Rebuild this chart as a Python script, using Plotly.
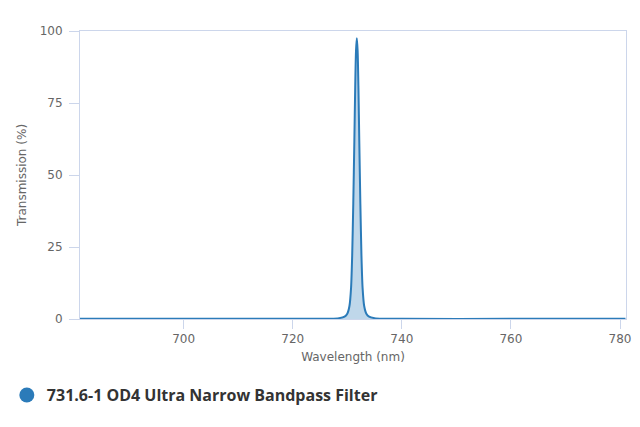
import plotly.graph_objects as go

series_name = "731.6-1 OD4 Ultra Narrow Bandpass Filter"
wavelength_nm = [681, 700, 720, 727, 728.5, 729.5, 730.0, 730.4, 730.7, 730.9, 731.1, 731.3, 731.45,
                 731.6, 731.75, 731.9, 732.05, 732.2, 732.4, 732.6, 732.8, 733.1, 733.5, 734.0,
                 735.0, 736.5, 740, 760, 781]
transmission_pct = [0.05, 0.05, 0.05, 0.1, 0.3, 0.8, 1.8, 4.5, 11, 22, 40, 62, 80,
                    93, 97.5, 93, 80, 62, 40, 22, 11, 4.5, 1.8, 0.8,
                    0.3, 0.1, 0.05, 0.05, 0.05]
x_ticks = [700, 720, 740, 760, 780]
y_ticks = [0, 25, 50, 75, 100]

line_color = "#2b7bb9"
axis_color = "#ccd6eb"
label_font = "DejaVu Sans, Verdana, sans-serif"

fig = go.Figure()
fig.add_trace(go.Scatter(
    x=wavelength_nm, y=transmission_pct, mode="lines",
    line=dict(color=line_color, width=2, shape="spline", smoothing=0.6),
    fill="tozeroy", fillcolor="rgba(43,123,185,0.3)",
    showlegend=False, hoverinfo="x+y",
))
fig.add_trace(go.Scatter(
    x=[None], y=[None], mode="markers", name=series_name,
    marker=dict(color=line_color, size=15, symbol="circle"),
))

fig.update_layout(
    width=624, height=411,
    margin=dict(l=72, r=6, t=23, b=100, autoexpand=False),
    plot_bgcolor="white", paper_bgcolor="white",
    font=dict(family=label_font, size=12, color="#666666"),
    xaxis=dict(
        range=[681, 781.1], tickvals=x_ticks, ticks="outside", ticklen=9,
        tickcolor=axis_color, showgrid=False, zeroline=False,
        showline=True, linecolor=axis_color, mirror=True, linewidth=1,
        title=dict(text="Wavelength (nm)", font=dict(family=label_font, size=12, color="#666666"), standoff=7),
        tickfont=dict(family=label_font, size=12, color="#666666"),
        ticklabeloverflow="allow",
        automargin=False,
    ),
    yaxis=dict(
        range=[0, 100], tickvals=y_ticks, ticks="outside", ticklen=10,
        tickcolor=axis_color, showgrid=False, zeroline=False,
        showline=True, linecolor=axis_color, mirror=True, linewidth=1,
        title=dict(text="Transmission (%)", font=dict(family=label_font, size=12, color="#666666"), standoff=10),
        tickfont=dict(family=label_font, size=12, color="#666666"),
        ticklabelstandoff=4,
        automargin=False,
    ),
    legend=dict(
        orientation="h", x=-0.134, xanchor="left", y=-0.205, yanchor="top",
        font=dict(family="Open Sans, Roboto, sans-serif", size=16, color="#333333", weight="bold"),
        itemsizing="trace", bgcolor="rgba(0,0,0,0)",
    ),
)

fig.write_html("out.html")
